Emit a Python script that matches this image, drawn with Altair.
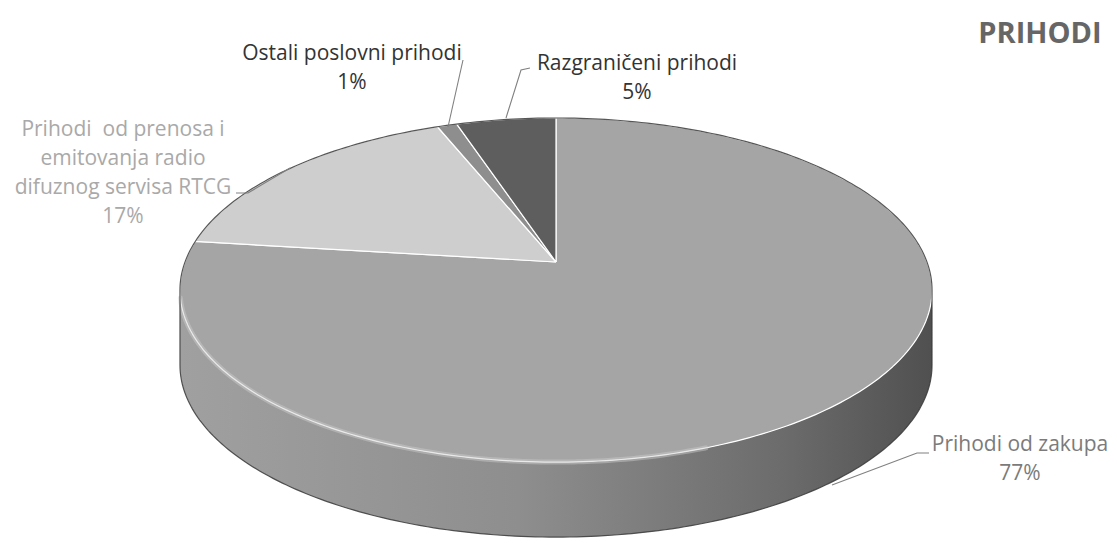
import numpy as np
import pandas as pd
import altair as alt

# ---------------- data ----------------
categories = ["Prihodi od zakupa",
              "Prihodi od prenosa i emitovanja radio difuznog servisa RTCG",
              "Ostali poslovni prihodi",
              "Razgraničeni prihodi"]
shares = [77, 17, 1, 5]
label_heads = [["Prihodi od zakupa"],
               ["Prihodi\u00a0 od prenosa i", "emitovanja radio", "difuznog servisa RTCG"],
               ["Ostali poslovni prihodi"],
               ["Razgraničeni prihodi"]]
title_text = "PRIHODI"

# ---------------- styles / layout ----------------
slice_colors = ["#a5a5a5", "#cecece", "#8e8e8e", "#5e5e5e"]
label_colors = ["#7b7b7b", "#a9a9a9", "#333333", "#333333"]
FONT = "Open Sans"

W, H = 1100, 526            # drawing area (page minus 8px margins)
CX, CY = 556.0, 262.0       # pie centre on the page
RX, RY = 371.0, 167.5       # projected radii
K = 0.163                   # perspective factor
DEPTH = 75.0                # thickness of the pie in px

label_anchor = [(1020, 445), (123, 130), (352, 54), (637, 64)]
leader_paths = [[(929, 453), (917, 453), (832, 485)],
                [(236, 193), (248, 193), (290, 168)],
                [(463, 60), (448, 127)],
                [(530, 68), (521, 70), (506, 118)]]
title_anchor = (1040, 34)


def ux(px):
    return (px - CX) / RX


def uy(py):
    return (CY - py) / RY


def proj(t):
    u, v = np.sin(t), np.cos(t)
    d = 1 + K * v
    return u / d, v / d


xs = alt.Scale(domain=[ux(8), ux(8 + W)], nice=False, zero=False)
ys = alt.Scale(domain=[uy(8 + H), uy(8)], nice=False, zero=False)


def X(f="x"):
    return alt.X(f"{f}:Q", scale=xs, axis=None)


def Y(f="y"):
    return alt.Y(f"{f}:Q", scale=ys, axis=None)


# ---------------- slice polygons (top face) ----------------
total = float(sum(shares))
rows = []
cum = 0.0
for name, v in zip(categories, shares):
    a0 = 2 * np.pi * cum / total
    a1 = 2 * np.pi * (cum + v) / total
    n = max(4, int(np.ceil(np.degrees(a1 - a0))))
    rows.append(dict(slice=name, i=0, x=0.0, y=0.0))
    for j, t in enumerate(np.linspace(a0, a1, n + 1)):
        px_, py_ = proj(t)
        rows.append(dict(slice=name, i=j + 1, x=px_, y=py_))
    rows.append(dict(slice=name, i=n + 2, x=0.0, y=0.0))
    cum += v
slices_df = pd.DataFrame(rows)

# ---------------- side of the pie ----------------
th0 = np.arccos(-K)
ths = np.linspace(th0, 2 * np.pi - th0, 181)
dep = DEPTH / RY
side_rows = []
k = 0
for t in ths:
    a, b = proj(t)
    side_rows.append(dict(i=k, x=a, y=b)); k += 1
for t in ths[::-1]:
    a, b = proj(t)
    side_rows.append(dict(i=k, x=a, y=b - dep)); k += 1
side_df = pd.DataFrame(side_rows)

# silhouette outline
out_rows = []
k = 0
for t in np.linspace(2 * np.pi - th0, 2 * np.pi + th0, 181):
    a, b = proj(t)
    out_rows.append(dict(i=k, x=a, y=b)); k += 1
for t in np.linspace(th0, 2 * np.pi - th0, 181):
    a, b = proj(t)
    out_rows.append(dict(i=k, x=a, y=b - dep)); k += 1
a, b = proj(2 * np.pi - th0)
out_rows.append(dict(i=k, x=a, y=b))
out_df = pd.DataFrame(out_rows)

# rim highlight (soft bevel)
hl_rows = []
for j, t in enumerate(np.linspace(np.radians(160), np.radians(258), 90)):
    a, b = proj(t)
    hl_rows.append(dict(i=j, x=a, y=b))
hl_df = pd.DataFrame(hl_rows)

# leader lines
ld_rows = []
for s, path in enumerate(leader_paths):
    for j, (px_, py_) in enumerate(path):
        ld_rows.append(dict(s=s, i=j, x=ux(px_), y=uy(py_)))
ld_df = pd.DataFrame(ld_rows)

# labels
lab_rows = []
for name, v, head, (px_, py_), c in zip(categories, shares, label_heads,
                                        label_anchor, label_colors):
    lab_rows.append(dict(name=name, text="\n".join(head + [f"{v}%"]),
                         x=ux(px_), y=uy(py_), c=c))
lab_df = pd.DataFrame(lab_rows)
title_df = pd.DataFrame([dict(text=title_text, x=ux(title_anchor[0]), y=uy(title_anchor[1]))])

# ---------------- layers ----------------
side = alt.Chart(side_df).mark_line(
    interpolate="linear", strokeWidth=0,
    fill=alt.LinearGradient(gradient="linear", x1=0, x2=1, y1=0, y2=0,
                            stops=[alt.GradientStop(color="#a0a0a0", offset=0),
                                   alt.GradientStop(color="#8e8e8e", offset=0.45),
                                   alt.GradientStop(color="#6c6c6c", offset=0.8),
                                   alt.GradientStop(color="#505050", offset=1)])
).encode(x=X(), y=Y(), order="i:Q")

top = alt.Chart(slices_df).mark_line(
    interpolate="linear", stroke="white", strokeWidth=1.2, strokeJoin="round"
).encode(
    x=X(), y=Y(), order="i:Q", detail="slice:N",
    fill=alt.Fill("slice:N", scale=alt.Scale(domain=categories, range=slice_colors), legend=None),
)

highlight = alt.Chart(hl_df).mark_line(
    interpolate="monotone", stroke="#cfcfcf", strokeWidth=5, opacity=0.45, strokeCap="round"
).encode(x=X(), y=Y(), order="i:Q")

outline = alt.Chart(out_df).mark_line(
    interpolate="linear", stroke="#3a3a3a", strokeWidth=1.2, opacity=0.85
).encode(x=X(), y=Y(), order="i:Q")

leaders = alt.Chart(ld_df).mark_line(
    interpolate="linear", stroke="#808080", strokeWidth=1.1
).encode(x=X(), y=Y(), order="i:Q", detail="s:N")

labels = alt.Chart(lab_df).mark_text(
    font=FONT, fontSize=21, lineBreak="\n", lineHeight=29,
    align="center", baseline="middle"
).encode(x=X(), y=Y(), text="text:N", color=alt.Color("c:N", scale=None))

title = alt.Chart(title_df).mark_text(
    font=FONT, fontSize=29, fontWeight="bold", color="#666666", align="center", baseline="middle"
).encode(x=X(), y=Y(), text="text:N")

chart = alt.layer(side, top, highlight, outline, leaders, labels, title).properties(
    width=W, height=H, padding=0
).configure_view(stroke=None)

chart.save("out.html", embed_options={"renderer": "svg", "actions": False})
